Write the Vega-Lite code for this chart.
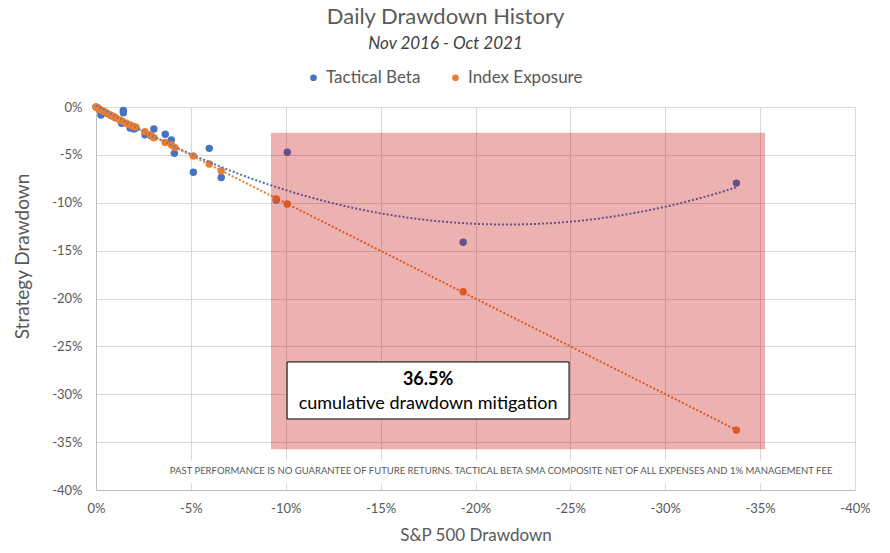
{
  "$schema": "https://vega.github.io/schema/vega-lite/v6.json",
  "autosize": {"type": "none"},
  "width": 759,
  "height": 383,
  "padding": {"left": 96, "top": 107, "right": 35, "bottom": 63},
  "background": "white",
  "title": {
    "text": "Daily Drawdown History",
    "subtitle": "Nov 2016 - Oct 2021",
    "anchor": "middle",
    "frame": "group",
    "dx": -30,
    "offset": 16,
    "font": "Lato",
    "fontSize": 22,
    "fontWeight": "normal",
    "color": "#595959",
    "subtitleFont": "Lato",
    "subtitleFontSize": 17,
    "subtitleFontStyle": "italic",
    "subtitleColor": "#404040",
    "subtitlePadding": 7
  },
  "config": {
    "view": {"stroke": null},
    "font": "Lato",
    "axis": {
      "grid": true,
      "gridColor": "#d9d9d9",
      "domainColor": "#bfbfbf",
      "ticks": false,
      "labelFlush": false,
      "labelFont": "Lato",
      "labelFontSize": 13,
      "labelColor": "#595959",
      "titleFont": "Lato",
      "titleFontSize": 17,
      "titleFontWeight": "normal",
      "titleColor": "#595959"
    }
  },
  "datasets": {
    "points": [
      {"series": "Tactical Beta", "sp": 0, "strat": 0},
      {"series": "Tactical Beta", "sp": -0.1, "strat": -0.1},
      {"series": "Tactical Beta", "sp": -0.2, "strat": -0.3},
      {"series": "Tactical Beta", "sp": -0.26, "strat": -0.84},
      {"series": "Tactical Beta", "sp": -0.5, "strat": -0.6},
      {"series": "Tactical Beta", "sp": -0.8, "strat": -0.9},
      {"series": "Tactical Beta", "sp": -1.0, "strat": -1.1},
      {"series": "Tactical Beta", "sp": -1.35, "strat": -1.7},
      {"series": "Tactical Beta", "sp": -1.44, "strat": -0.35},
      {"series": "Tactical Beta", "sp": -1.44, "strat": -0.6},
      {"series": "Tactical Beta", "sp": -1.8, "strat": -2.2},
      {"series": "Tactical Beta", "sp": -2.0, "strat": -2.3},
      {"series": "Tactical Beta", "sp": -2.1, "strat": -2.2},
      {"series": "Tactical Beta", "sp": -2.58, "strat": -2.9},
      {"series": "Tactical Beta", "sp": -2.9, "strat": -3.0},
      {"series": "Tactical Beta", "sp": -3.05, "strat": -2.3},
      {"series": "Tactical Beta", "sp": -3.65, "strat": -2.85},
      {"series": "Tactical Beta", "sp": -3.97, "strat": -3.45},
      {"series": "Tactical Beta", "sp": -4.13, "strat": -4.84},
      {"series": "Tactical Beta", "sp": -5.13, "strat": -6.82},
      {"series": "Tactical Beta", "sp": -5.97, "strat": -4.32},
      {"series": "Tactical Beta", "sp": -6.6, "strat": -7.37},
      {"series": "Tactical Beta", "sp": -9.5, "strat": -9.7},
      {"series": "Tactical Beta", "sp": -10.08, "strat": -4.73},
      {"series": "Tactical Beta", "sp": -19.35, "strat": -14.13},
      {"series": "Tactical Beta", "sp": -33.75, "strat": -7.95},
      {"series": "Index Exposure", "sp": 0, "strat": 0},
      {"series": "Index Exposure", "sp": -0.1, "strat": -0.1},
      {"series": "Index Exposure", "sp": -0.2, "strat": -0.25},
      {"series": "Index Exposure", "sp": -0.3, "strat": -0.35},
      {"series": "Index Exposure", "sp": -0.4, "strat": -0.45},
      {"series": "Index Exposure", "sp": -0.56, "strat": -0.66},
      {"series": "Index Exposure", "sp": -0.7, "strat": -0.78},
      {"series": "Index Exposure", "sp": -0.91, "strat": -1.0},
      {"series": "Index Exposure", "sp": -1.05, "strat": -1.15},
      {"series": "Index Exposure", "sp": -1.26, "strat": -1.36},
      {"series": "Index Exposure", "sp": -1.4, "strat": -1.5},
      {"series": "Index Exposure", "sp": -1.6, "strat": -1.7},
      {"series": "Index Exposure", "sp": -1.8, "strat": -1.88},
      {"series": "Index Exposure", "sp": -1.96, "strat": -2.0},
      {"series": "Index Exposure", "sp": -2.1, "strat": -2.1},
      {"series": "Index Exposure", "sp": -2.58, "strat": -2.57},
      {"series": "Index Exposure", "sp": -2.85, "strat": -2.9},
      {"series": "Index Exposure", "sp": -3.05, "strat": -3.2},
      {"series": "Index Exposure", "sp": -3.65, "strat": -3.7},
      {"series": "Index Exposure", "sp": -3.98, "strat": -3.97},
      {"series": "Index Exposure", "sp": -4.16, "strat": -4.24},
      {"series": "Index Exposure", "sp": -5.13, "strat": -5.12},
      {"series": "Index Exposure", "sp": -5.97, "strat": -5.95},
      {"series": "Index Exposure", "sp": -6.6, "strat": -6.65},
      {"series": "Index Exposure", "sp": -9.5, "strat": -9.6},
      {"series": "Index Exposure", "sp": -10.08, "strat": -10.13},
      {"series": "Index Exposure", "sp": -19.35, "strat": -19.3},
      {"series": "Index Exposure", "sp": -33.75, "strat": -33.75}
    ],
    "boxes": [
      {"name": "highlight", "x1": -9.22, "x2": -35.26, "y1": -2.68, "y2": -35.75},
      {"name": "note", "x1": -3.6, "x2": -39.3, "y1": -36.9, "y2": -39.3},
      {"name": "callout", "x1": -10.07, "x2": -24.93, "y1": -26.63, "y2": -32.58}
    ],
    "labels": [
      {"name": "pct", "x": -17.5, "y": -28.55, "text": "36.5%"},
      {"name": "desc", "x": -17.5, "y": -31.05, "text": "cumulative drawdown mitigation"},
      {"name": "note", "x": -21.35, "y": -38.05, "text": "PAST PERFORMANCE IS NO GUARANTEE OF FUTURE RETURNS. TACTICAL BETA SMA COMPOSITE NET OF ALL EXPENSES AND 1% MANAGEMENT FEE"}
    ]
  },
  "encoding": {
    "x": {
      "field": "sp",
      "type": "quantitative",
      "scale": {"domain": [0, -40], "nice": false, "zero": false},
      "axis": {
        "values": [0, -5, -10, -15, -20, -25, -30, -35, -40],
        "labelExpr": "datum.value + '%'",
        "labelPadding": 12,
        "title": "S&P 500 Drawdown",
        "titleBaseline": "middle",
        "titleY": 45
      }
    },
    "y": {
      "field": "strat",
      "type": "quantitative",
      "scale": {"domain": [-40, 0], "nice": false, "zero": false},
      "axis": {
        "values": [0, -5, -10, -15, -20, -25, -30, -35, -40],
        "labelExpr": "datum.value + '%'",
        "labelPadding": 14,
        "title": "Strategy Drawdown",
        "titleFontSize": 19,
        "titleBaseline": "middle",
        "titleX": -74,
        "titleY": 149,
        "titleAngle": -90
      }
    }
  },
  "layer": [
    {
      "data": {"name": "points"},
      "mark": {"type": "circle", "size": 55, "opacity": 1},
      "encoding": {
        "color": {
          "field": "series",
          "type": "nominal",
          "scale": {"domain": ["Tactical Beta", "Index Exposure"], "range": ["#4472C4", "#ED7D31"]},
          "legend": {
            "title": null,
            "orient": "none",
            "direction": "horizontal",
            "legendX": 209,
            "legendY": -38,
            "symbolType": "circle",
            "symbolSize": 45,
            "labelFont": "Lato",
            "labelFontSize": 17,
            "labelColor": "#595959",
            "columnPadding": 26
          }
        }
      }
    },
    {
      "data": {"name": "points"},
      "transform": [
        {"filter": "datum.series === 'Tactical Beta'"},
        {"regression": "strat", "on": "sp", "method": "poly", "order": 2}
      ],
      "mark": {"type": "line", "color": "#4472C4", "strokeWidth": 2, "strokeDash": [2, 2]},
      "encoding": {}
    },
    {
      "data": {"name": "points"},
      "transform": [
        {"filter": "datum.series === 'Index Exposure'"},
        {"regression": "strat", "on": "sp", "method": "linear"}
      ],
      "mark": {"type": "line", "color": "#ED7D31", "strokeWidth": 2, "strokeDash": [2, 2]},
      "encoding": {}
    },
    {
      "data": {"name": "boxes"},
      "transform": [{"filter": "datum.name === 'highlight'"}],
      "mark": {"type": "rect", "color": "#C00000", "opacity": 0.3},
      "encoding": {
        "x": {"field": "x1", "type": "quantitative"},
        "x2": {"field": "x2"},
        "y": {"field": "y1", "type": "quantitative"},
        "y2": {"field": "y2"}
      }
    },
    {
      "data": {"name": "boxes"},
      "transform": [{"filter": "datum.name === 'note'"}],
      "mark": {"type": "rect", "color": "white"},
      "encoding": {
        "x": {"field": "x1", "type": "quantitative"},
        "x2": {"field": "x2"},
        "y": {"field": "y1", "type": "quantitative"},
        "y2": {"field": "y2"}
      }
    },
    {
      "data": {"name": "boxes"},
      "transform": [{"filter": "datum.name === 'callout'"}],
      "mark": {"type": "rect", "fill": "white", "stroke": "black", "strokeWidth": 1},
      "encoding": {
        "x": {"field": "x1", "type": "quantitative"},
        "x2": {"field": "x2"},
        "y": {"field": "y1", "type": "quantitative"},
        "y2": {"field": "y2"}
      }
    },
    {
      "data": {"name": "labels"},
      "transform": [{"filter": "datum.name === 'pct'"}],
      "mark": {"type": "text", "font": "Lato", "fontSize": 18, "fontWeight": "bold", "color": "black", "baseline": "middle"},
      "encoding": {
        "x": {"field": "x", "type": "quantitative"},
        "y": {"field": "y", "type": "quantitative"},
        "text": {"field": "text"}
      }
    },
    {
      "data": {"name": "labels"},
      "transform": [{"filter": "datum.name === 'desc'"}],
      "mark": {"type": "text", "font": "Lato", "fontSize": 18, "color": "black", "baseline": "middle"},
      "encoding": {
        "x": {"field": "x", "type": "quantitative"},
        "y": {"field": "y", "type": "quantitative"},
        "text": {"field": "text"}
      }
    },
    {
      "data": {"name": "labels"},
      "transform": [{"filter": "datum.name === 'note'"}],
      "mark": {"type": "text", "font": "Lato", "fontSize": 9.5, "color": "#595959", "baseline": "middle"},
      "encoding": {
        "x": {"field": "x", "type": "quantitative"},
        "y": {"field": "y", "type": "quantitative"},
        "text": {"field": "text"}
      }
    }
  ]
}
